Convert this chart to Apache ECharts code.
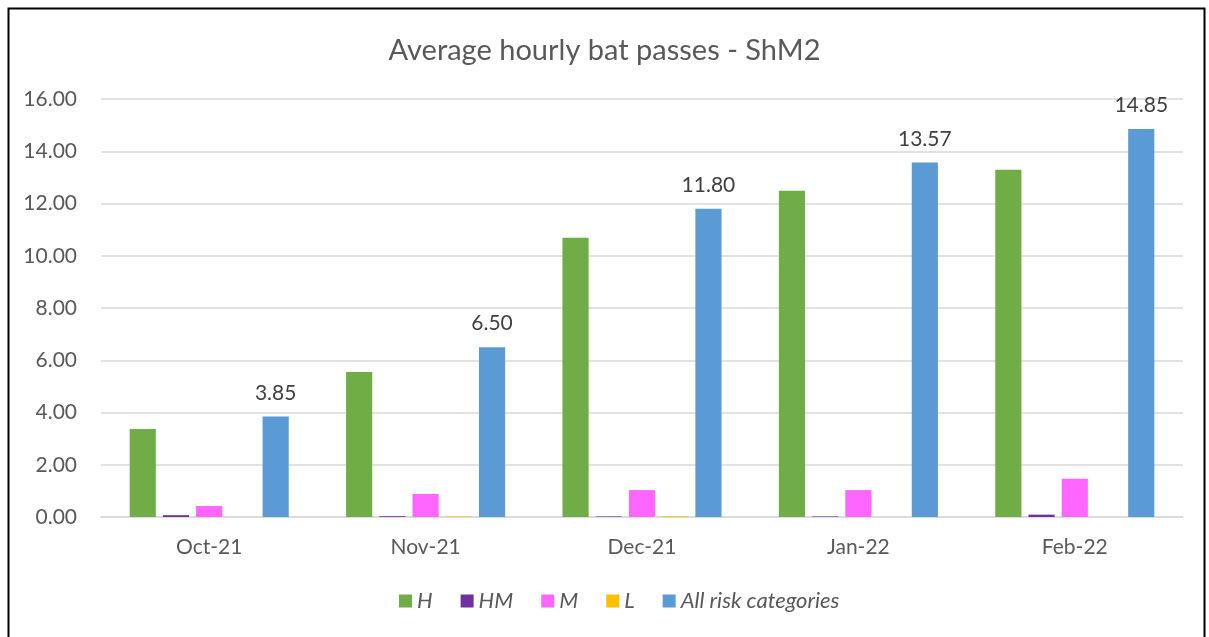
<!DOCTYPE html>
<html>
<head>
<meta charset="utf-8">
<script src="https://cdn.jsdelivr.net/npm/echarts@6/dist/echarts.min.js"></script>
<style>
html,body{margin:0;padding:0;background:#fff;}
#c{width:1209px;height:637px;}
</style>
</head>
<body>
<div id="c"></div>
<script>
const categories = ['Oct-21','Nov-21','Dec-21','Jan-22','Feb-22'];
const seriesNames = ['H','HM','M','L','All risk categories'];
const valH = [3.37, 5.55, 10.69, 12.49, 13.29];
const valHM = [0.07, 0.03, 0.02, 0.02, 0.09];
const valM = [0.42, 0.88, 1.03, 1.03, 1.46];
const valL = [0.00, 0.02, 0.03, 0.00, 0.00];
const valAll = [3.85, 6.50, 11.80, 13.57, 14.85];
const yTicks = {min: 0, max: 16, interval: 2};

const colors = ['#70AD47','#7030A0','#FF66FF','#FFC000','#5B9BD5'];
const dataSets = [valH, valHM, valM, valL, valAll];
const font = 'Lato, "Open Sans", sans-serif';

const chart = echarts.init(document.getElementById('c'));
chart.setOption({
  animation: false,
  textStyle: {fontFamily: font},
  title: {
    text: 'Average hourly bat passes - ShM2',
    left: 'center', top: 31,
    textStyle: {fontFamily: font, fontSize: 29, fontWeight: 'normal', color: '#595959'}
  },
  legend: {
    bottom: 20, left: 394,
    itemWidth: 13, itemHeight: 13, itemGap: 28,
    icon: 'rect',
    textStyle: {fontFamily: font, fontSize: 22, fontStyle: 'italic', color: '#595959'},
    data: seriesNames
  },
  grid: {left: 101, right: 26, top: 99, bottom: 120, containLabel: false},
  xAxis: {
    type: 'category', data: categories,
    axisLine: {lineStyle: {color: '#D9D9D9', width: 1.5}},
    axisTick: {show: false},
    axisLabel: {fontFamily: font, fontSize: 21, color: '#595959', margin: 20}
  },
  yAxis: {
    type: 'value', min: yTicks.min, max: yTicks.max, interval: yTicks.interval,
    axisLine: {show: false}, axisTick: {show: false},
    splitLine: {lineStyle: {color: '#D9D9D9', width: 1.5}},
    axisLabel: {fontFamily: font, fontSize: 21, color: '#595959', margin: 24,
      formatter: v => v.toFixed(2)}
  },
  graphic: [{
    type: 'rect', left: 6, top: 6,
    shape: {width: 1196, height: 640},
    style: {fill: 'none', stroke: '#000', lineWidth: 2}
  }],
  series: seriesNames.map((n, i) => ({
    name: n, type: 'bar', data: dataSets[i],
    itemStyle: {color: colors[i]},
    barGap: '27%', barCategoryGap: '26.5%',
    label: i === 4 ? {show: true, position: 'top', distance: 13,
      fontFamily: font, fontSize: 21, color: '#404040',
      formatter: p => p.value.toFixed(2)} : {show: false}
  }))
});
</script>
</body>
</html>
